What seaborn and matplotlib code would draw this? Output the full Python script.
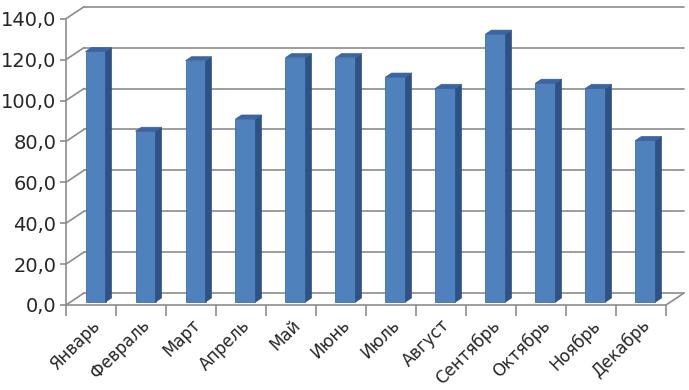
import matplotlib
matplotlib.use('Agg')
import matplotlib.pyplot as plt
import seaborn as sns
import pandas as pd
from matplotlib.patches import Polygon

months = ['Январь', 'Февраль', 'Март', 'Апрель', 'Май', 'Июнь',
          'Июль', 'Август', 'Сентябрь', 'Октябрь', 'Ноябрь', 'Декабрь']
values = [122.5, 83.5, 118.0, 89.5, 119.5, 119.5, 110.0, 104.5, 131.0, 107.0, 104.5, 79.0]
y_ticks = [0, 20, 40, 60, 80, 100, 120, 140]

df = pd.DataFrame({'month': months, 'value': values})

sns.set_theme(style='white')
plt.rcParams['font.family'] = ['DejaVu Sans']

W, H = 689, 390
fig = plt.figure(figsize=(W / 100, H / 100), dpi=100)
# front plane of the 3d box: x 66..666 px, y 305 (0) .. 18.7 (140) px
ax = fig.add_axes([66 / W, 85 / H, 600 / W, 286.3 / H])
ax.set_xlim(-0.5, 11.5)
ax.set_ylim(0, 140)
ax.set_facecolor('none')

px_x = 600 / 12
px_y = 286.3 / 140

def depth(dx_px, dy_px):
    return dx_px / px_x, dy_px / px_y

wall_dx, wall_dy = depth(18, 12)
bar_dx, bar_dy = depth(4.5, 3)
side_dx, side_dy = depth(6, 4)

grid_c = '#8c8c8c'
front_c = '#4f81bd'
side_c = '#2f5284'
top_c = '#3a65a0'

# back wall grid and left wall diagonals
for v in y_ticks:
    ax.plot([-0.5 + wall_dx, 11.5 + wall_dx], [v + wall_dy, v + wall_dy],
            color=grid_c, lw=1.2, clip_on=False, zorder=0)
    ax.plot([-0.5, -0.5 + wall_dx], [v, v + wall_dy],
            color=grid_c, lw=1.2, clip_on=False, zorder=0)
# floor right edge
ax.plot([11.5, 11.5 + wall_dx], [0, wall_dy], color=grid_c, lw=1.2, clip_on=False, zorder=0)

sns.barplot(data=df, x='month', y='value', color=front_c, width=0.4,
            saturation=1, errorbar=None, ax=ax, zorder=3)

for p in ax.patches:
    p.set_x(p.get_x() + bar_dx)
    p.set_y(bar_dy)
    p.set_facecolor(front_c)
    p.set_edgecolor('#3f6fa8')
    p.set_linewidth(0.6)
    p.set_clip_on(False)
    x0, w = p.get_x(), p.get_width()
    y0, h = p.get_y(), p.get_height()
    side = Polygon([(x0 + w, y0), (x0 + w + side_dx, y0 + side_dy),
                    (x0 + w + side_dx, y0 + h + side_dy), (x0 + w, y0 + h)],
                   closed=True, facecolor=side_c, edgecolor=side_c, lw=0.5,
                   clip_on=False, zorder=3)
    top = Polygon([(x0, y0 + h), (x0 + side_dx, y0 + h + side_dy),
                   (x0 + w + side_dx, y0 + h + side_dy), (x0 + w, y0 + h)],
                  closed=True, facecolor=top_c, edgecolor=top_c, lw=0.5,
                  clip_on=False, zorder=3)
    ax.add_patch(side)
    ax.add_patch(top)

# front axis
for s in ['top', 'right']:
    ax.spines[s].set_visible(False)
for s in ['left', 'bottom']:
    ax.spines[s].set_color(grid_c)
    ax.spines[s].set_linewidth(1.2)
    ax.spines[s].set_zorder(1)

ax.set_yticks(y_ticks)
ax.set_yticklabels([f'{v:.1f}'.replace('.', ',') for v in y_ticks], fontsize=14)
ax.tick_params(axis='y', length=4, width=1.2, color=grid_c, pad=3, left=True)

ax.set_xticks(range(len(months)))
ax.set_xticklabels(months, rotation=45, ha='right', rotation_mode='anchor', fontsize=12)
ax.set_xticks([i - 0.5 for i in range(len(months) + 1)], minor=True)
ax.tick_params(axis='x', which='major', length=0, pad=8)
ax.tick_params(axis='x', which='minor', length=8, width=1.2, color=grid_c, bottom=True)
ax.set_xlabel('')
ax.set_ylabel('')
ax.grid(False)

fig.savefig('out.png', dpi=100)
